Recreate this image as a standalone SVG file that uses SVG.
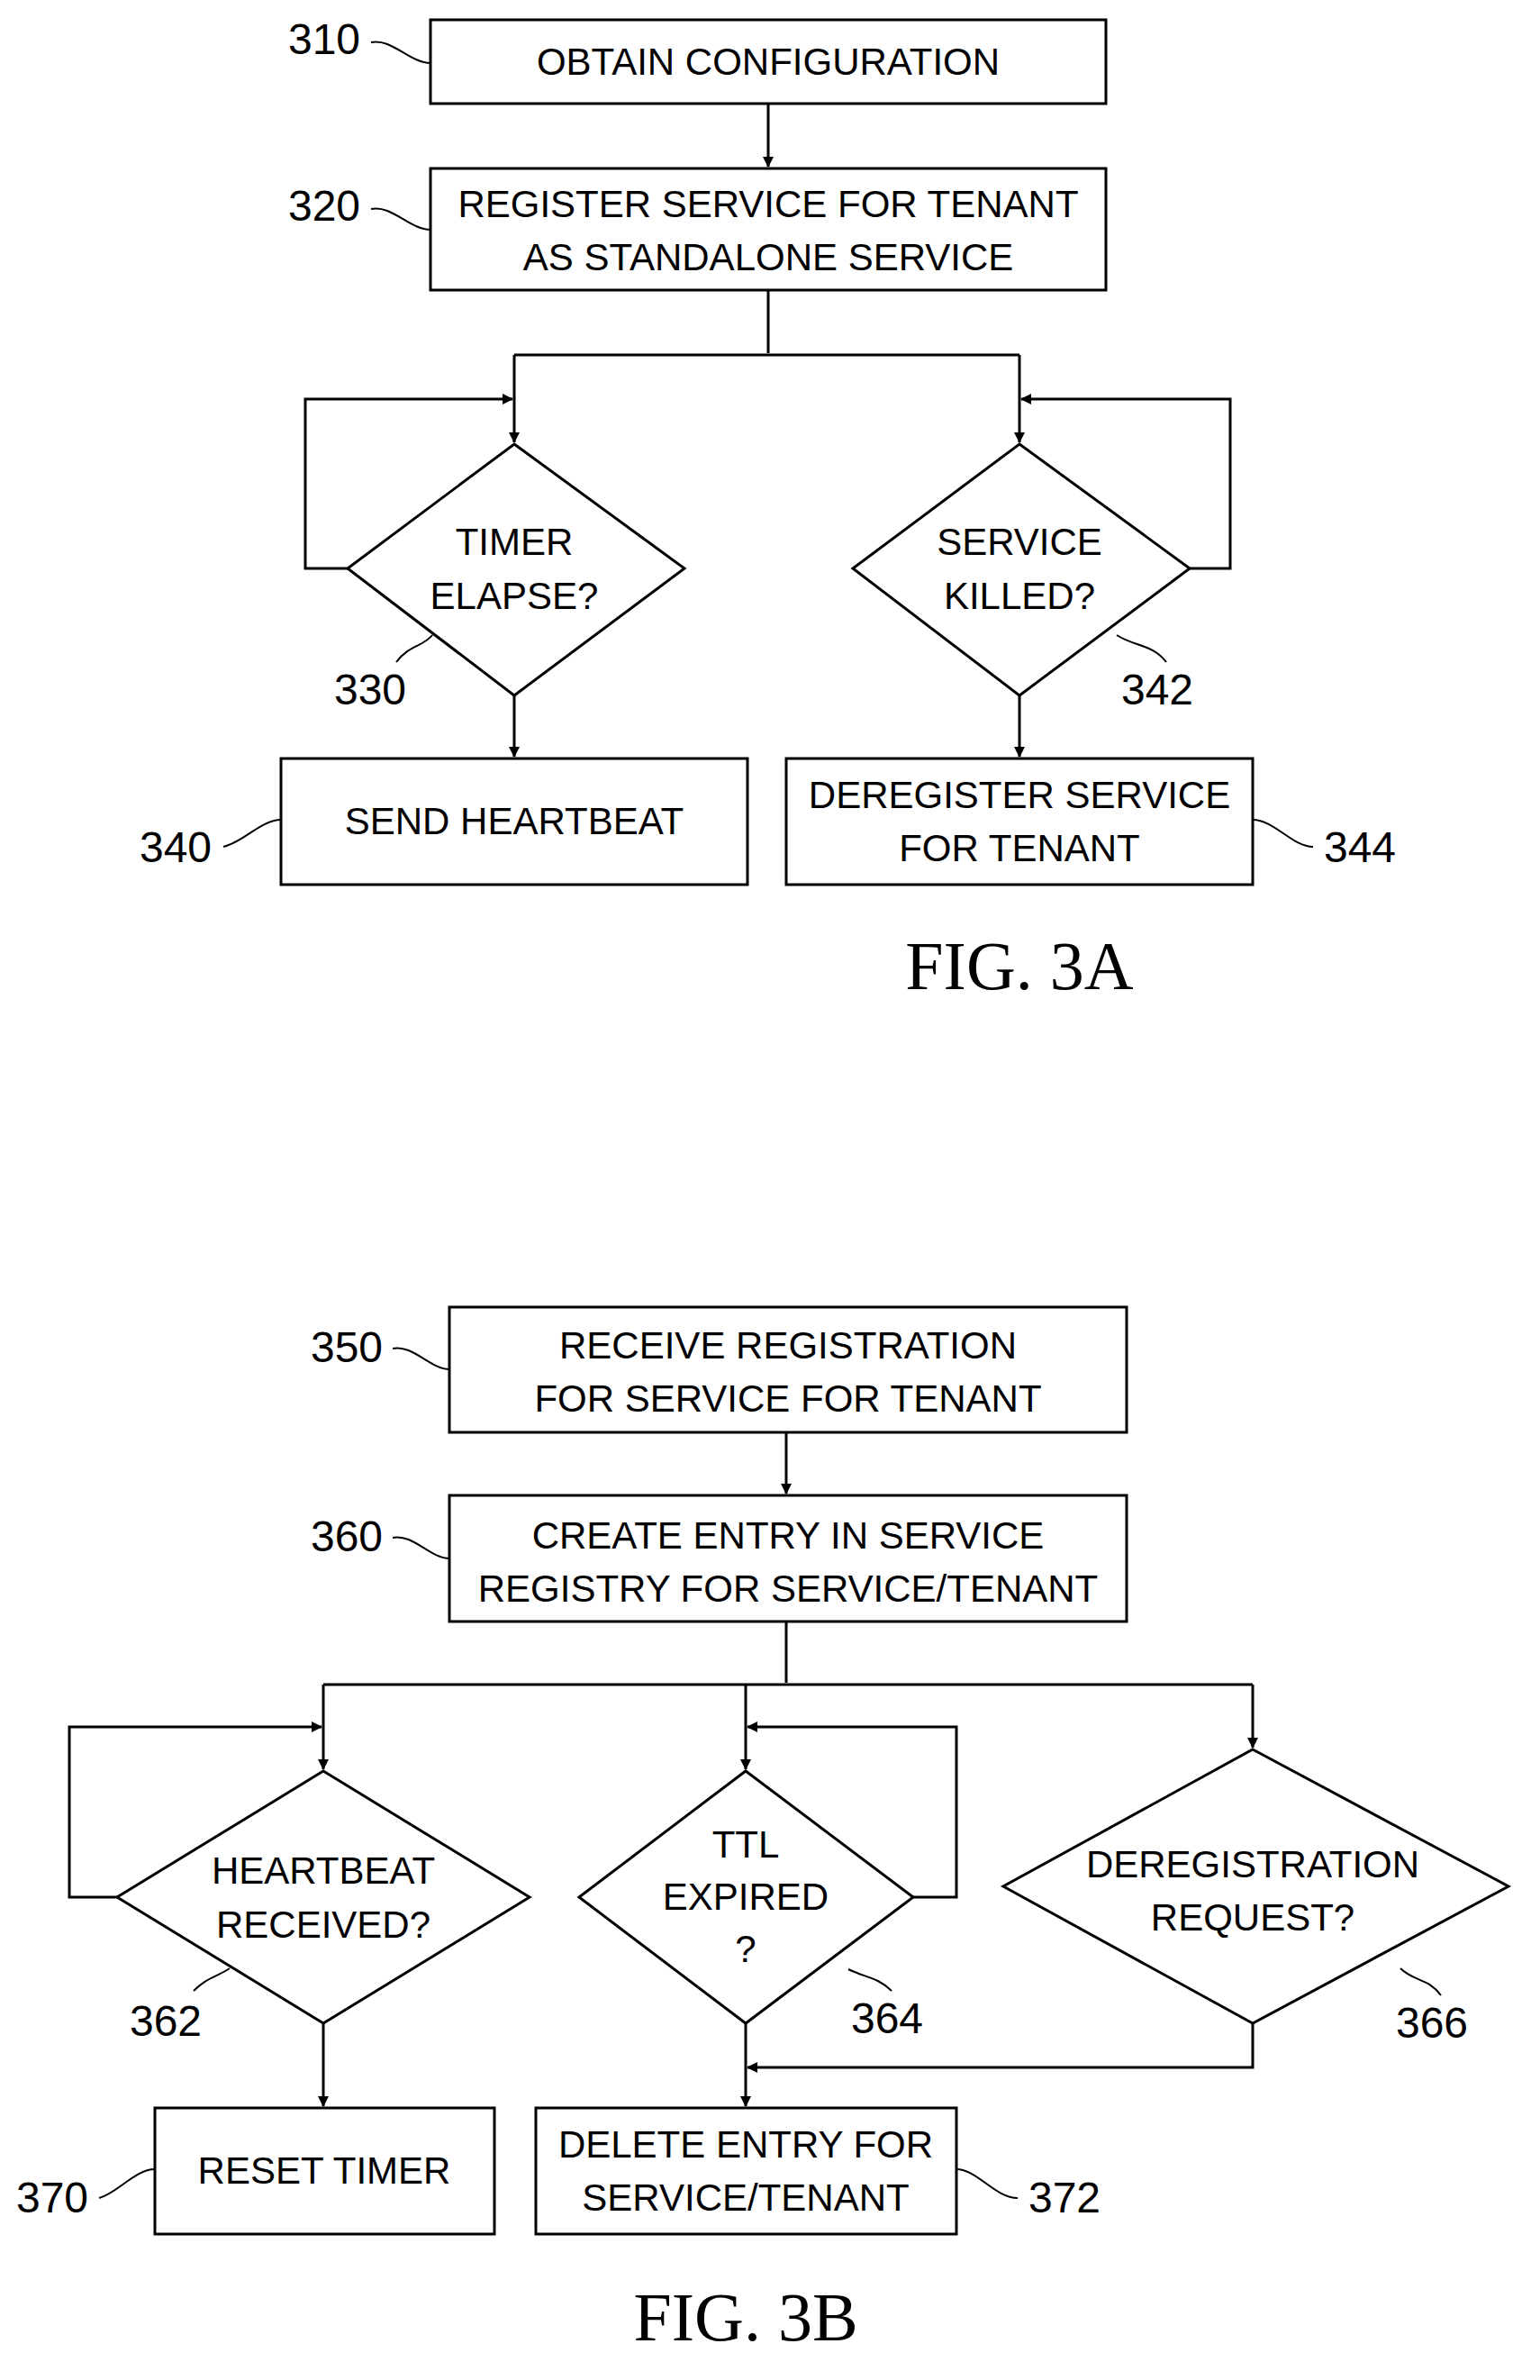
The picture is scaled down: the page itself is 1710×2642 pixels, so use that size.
<svg xmlns="http://www.w3.org/2000/svg" width="1710" height="2642" viewBox="0 0 1710 2642">
<style>
.b{fill:#fff;stroke:#000;stroke-width:3}
.t{font-family:"Liberation Sans Narrow","Liberation Sans",sans-serif;font-size:42px;text-anchor:middle;fill:#000}
.n{font-family:"Liberation Sans Narrow","Liberation Sans",sans-serif;font-size:48px;text-anchor:middle;fill:#000}
.f{font-family:"Liberation Serif",serif;font-size:76px;text-anchor:middle;fill:#000}
.c{fill:none;stroke:#000;stroke-width:3}
.l{fill:none;stroke:#000;stroke-width:2}
</style>
<defs><marker id="a" markerWidth="12" markerHeight="12" refX="11" refY="6" orient="auto" markerUnits="userSpaceOnUse"><path d="M0,0 L12,6 L0,12 Z" fill="#000"/></marker></defs>
<g id="connectors">
<path class="c" d="M853,115 V185" marker-end="url(#a)"/>
<path class="c" d="M853,322 V392"/>
<path class="c" d="M571,394 H1132"/>
<path class="c" d="M571,394 V491" marker-end="url(#a)"/>
<path class="c" d="M1132,394 V491" marker-end="url(#a)"/>
<path class="c" d="M386,631 H339 V443 H569" marker-end="url(#a)"/>
<path class="c" d="M1321,631 H1366 V443 H1134" marker-end="url(#a)"/>
<path class="c" d="M571,772 V840" marker-end="url(#a)"/>
<path class="c" d="M1132,772 V840" marker-end="url(#a)"/>
<path class="c" d="M873,1590 V1658" marker-end="url(#a)"/>
<path class="c" d="M873,1800 V1868"/>
<path class="c" d="M359,1870 H1391"/>
<path class="c" d="M359,1870 V1964" marker-end="url(#a)"/>
<path class="c" d="M828,1870 V1964" marker-end="url(#a)"/>
<path class="c" d="M1391,1870 V1940" marker-end="url(#a)"/>
<path class="c" d="M130,2106 H77 V1917 H357" marker-end="url(#a)"/>
<path class="c" d="M1014,2106 H1062 V1917 H830" marker-end="url(#a)"/>
<path class="c" d="M359,2246 V2338" marker-end="url(#a)"/>
<path class="c" d="M828,2246 V2338" marker-end="url(#a)"/>
<path class="c" d="M1391,2246 V2295 H830" marker-end="url(#a)"/>
</g>
<g id="n310"><rect class="b" x="478" y="22" width="750" height="93"/><text class="t" x="853" y="83">OBTAIN CONFIGURATION</text><text class="n" x="360" y="60">310</text><path class="l" d="M412,47 C435,42 455,70 478,70"/></g>
<g id="n320"><rect class="b" x="478" y="187" width="750" height="135"/><text class="t" x="853" y="241">REGISTER SERVICE FOR TENANT</text><text class="t" x="853" y="300">AS STANDALONE SERVICE</text><text class="n" x="360" y="245">320</text><path class="l" d="M412,232 C435,227 455,255 478,255"/></g>
<g id="n330"><path class="b" d="M571,493 L760,631 L571,772 L386,631 Z"/><text class="t" x="571" y="616">TIMER</text><text class="t" x="571" y="676">ELAPSE?</text><text class="n" x="411" y="782">330</text><path class="l" d="M440,735 C455,715 470,718 480,705"/></g>
<g id="n342"><path class="b" d="M1132,493 L1321,631 L1132,772 L947,631 Z"/><text class="t" x="1132" y="616">SERVICE</text><text class="t" x="1132" y="676">KILLED?</text><text class="n" x="1285" y="782">342</text><path class="l" d="M1295,735 C1280,715 1260,718 1240,705"/></g>
<g id="n340"><rect class="b" x="312" y="842" width="518" height="140"/><text class="t" x="571" y="926">SEND HEARTBEAT</text><text class="n" x="195" y="957">340</text><path class="l" d="M248,940 C270,935 290,910 312,910"/></g>
<g id="n344"><rect class="b" x="873" y="842" width="518" height="140"/><text class="t" x="1132" y="897">DEREGISTER SERVICE</text><text class="t" x="1132" y="956">FOR TENANT</text><text class="n" x="1510" y="957">344</text><path class="l" d="M1391,910 C1415,910 1435,940 1458,940"/></g>
<text class="f" x="1132" y="1098">FIG. 3A</text>
<g id="n350"><rect class="b" x="499" y="1451" width="752" height="139"/><text class="t" x="875" y="1508">RECEIVE REGISTRATION</text><text class="t" x="875" y="1567">FOR SERVICE FOR TENANT</text><text class="n" x="385" y="1512">350</text><path class="l" d="M436,1497 C458,1492 478,1520 499,1520"/></g>
<g id="n360"><rect class="b" x="499" y="1660" width="752" height="140"/><text class="t" x="875" y="1719">CREATE ENTRY IN SERVICE</text><text class="t" x="875" y="1778">REGISTRY FOR SERVICE/TENANT</text><text class="n" x="385" y="1722">360</text><path class="l" d="M436,1707 C458,1702 478,1730 499,1730"/></g>
<g id="n362"><path class="b" d="M359,1966 L588,2106 L359,2246 L130,2106 Z"/><text class="t" x="359" y="2091">HEARTBEAT</text><text class="t" x="359" y="2151">RECEIVED?</text><text class="n" x="184" y="2260">362</text><path class="l" d="M215,2210 C230,2195 240,2195 255,2185"/></g>
<g id="n364"><path class="b" d="M828,1966 L1014,2106 L828,2246 L643,2106 Z"/><text class="t" x="828" y="2062">TTL</text><text class="t" x="828" y="2120">EXPIRED</text><text class="t" x="828" y="2178">?</text><text class="n" x="985" y="2257">364</text><path class="l" d="M990,2210 C975,2195 960,2195 942,2186"/></g>
<g id="n366"><path class="b" d="M1391,1942 L1675,2094 L1391,2246 L1114,2094 Z"/><text class="t" x="1391" y="2084">DEREGISTRATION</text><text class="t" x="1391" y="2143">REQUEST?</text><text class="n" x="1590" y="2262">366</text><path class="l" d="M1600,2215 C1585,2195 1570,2200 1555,2185"/></g>
<g id="n370"><rect class="b" x="172" y="2340" width="377" height="140"/><text class="t" x="360" y="2424">RESET TIMER</text><text class="n" x="58" y="2456">370</text><path class="l" d="M110,2440 C130,2435 150,2408 172,2408"/></g>
<g id="n372"><rect class="b" x="595" y="2340" width="467" height="140"/><text class="t" x="828" y="2395">DELETE ENTRY FOR</text><text class="t" x="828" y="2454">SERVICE/TENANT</text><text class="n" x="1182" y="2456">372</text><path class="l" d="M1062,2408 C1085,2408 1105,2440 1130,2440"/></g>
<text class="f" x="828" y="2598">FIG. 3B</text>
</svg>
